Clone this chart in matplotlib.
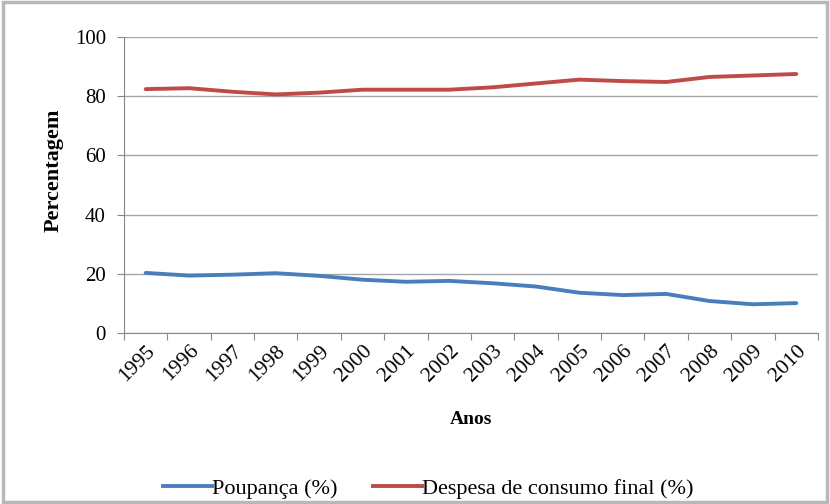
import matplotlib
matplotlib.use("Agg")
import matplotlib.pyplot as plt
from matplotlib.patches import Rectangle
from matplotlib.lines import Line2D

years = ["1995", "1996", "1997", "1998", "1999", "2000", "2001", "2002",
         "2003", "2004", "2005", "2006", "2007", "2008", "2009", "2010"]
poupanca = [20.3, 19.4, 19.7, 20.2, 19.3, 18.0, 17.3, 17.6,
            16.8, 15.7, 13.6, 12.8, 13.2, 10.8, 9.7, 10.1]
despesa = [82.4, 82.7, 81.5, 80.6, 81.2, 82.2, 82.2, 82.2,
           83.0, 84.3, 85.6, 85.1, 84.8, 86.5, 87.0, 87.5]
yticks = [0, 20, 40, 60, 80, 100]

plt.rcParams['font.family'] = ['Liberation Serif', 'DejaVu Serif']

fig = plt.figure(figsize=(8.3, 5.04), dpi=100)
fig.patch.set_facecolor('white')
fig.patches.append(Rectangle((0.004, 0.004), 0.992, 0.992, transform=fig.transFigure,
                             fill=False, edgecolor='#b8b8b8', linewidth=2.5))

ax = fig.add_axes([0.1494, 0.3393, 0.8361, 0.5873])
x = list(range(len(years)))
ax.plot(x, poupanca, color='#4a7ebb', linewidth=2.8, solid_joinstyle='round',
        solid_capstyle='round', label='Poupança (%)')
ax.plot(x, despesa, color='#be4b48', linewidth=2.8, solid_joinstyle='round',
        solid_capstyle='round', label='Despesa de consumo final (%)')

ax.set_ylim(0, 100)
ax.set_yticks(yticks)
ax.set_yticklabels([str(v) for v in yticks], fontsize=15)
ax.set_xlim(-0.5, len(years) - 0.5)
ax.set_xticks([i - 0.5 for i in range(len(years) + 1)])
ax.set_xticklabels([])
ax.set_xticks(x, minor=True)
ax.set_xticklabels(years, minor=True, rotation=45, ha='right', va='top',
                   rotation_mode='anchor', fontsize=15.5)
ax.tick_params(axis='x', which='minor', length=0, pad=6)
ax.tick_params(axis='x', which='major', length=5, color='#888888', direction='out')
ax.tick_params(axis='y', length=5, color='#888888', direction='out', pad=8)

ax.grid(axis='y', color='#a6a6a6', linewidth=1)
ax.set_axisbelow(True)
for s in ['top', 'right']:
    ax.spines[s].set_visible(False)
for s in ['left', 'bottom']:
    ax.spines[s].set_color('#888888')

ax.set_ylabel('Percentagem', fontsize=16, fontweight='bold')
ax.yaxis.set_label_coords(-0.087, 0.55)
ax.set_xlabel('Anos', fontsize=14, fontweight='bold')
ax.xaxis.set_label_coords(0.5, -0.265)

handles = [Line2D([], [], color='#4a7ebb', linewidth=2.8),
           Line2D([], [], color='#be4b48', linewidth=2.8)]
fig.legend(handles, ['Poupança (%)', 'Despesa de consumo final (%)'],
           loc='center', bbox_to_anchor=(0.516, 0.03), ncol=2, frameon=False,
           fontsize=16, handlelength=2.2, handletextpad=0.0, columnspacing=1.6)

fig.savefig('out.png', dpi=100, facecolor='white')
